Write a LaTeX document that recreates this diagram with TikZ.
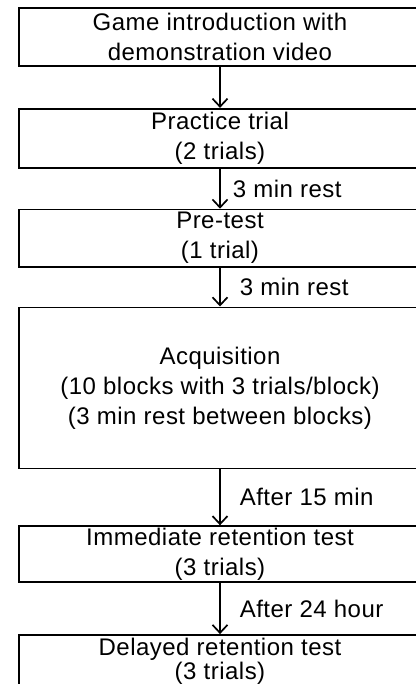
\documentclass[tikz,border=0pt]{standalone}
\usepackage{fontspec}
\setmainfont[LetterSpace=2]{Liberation Sans}
\usetikzlibrary{positioning,arrows.meta}

\begin{document}
\begin{tikzpicture}[x=1pt, y=1pt,
    box/.style={rectangle, draw=black, line width=1.8pt,
                minimum width=402pt, inner sep=0pt, align=center,
                font=\fontsize{24}{30}\selectfont},
    arrow/.style={-{Straight Barb[length=8pt,width=15pt]}, line width=1.7pt},
    lbl/.style={font=\fontsize{24}{30}\selectfont, inner sep=0pt}
]
    \useasboundingbox (0,0) rectangle (415,-684);
    \node[box, minimum height=58pt] (intro) at (220,-37)
        {Game introduction with\\demonstration video};
    \node[box, minimum height=59pt, below=41pt of intro] (practice)
        {Practice trial\\(2 trials)};
    \node[box, minimum height=57pt, below=40pt of practice] (pretest)
        {Pre-test\\(1 trial)};
    \node[box, minimum height=161pt, below=39pt of pretest] (acq)
        {Acquisition\\(10 blocks with 3 trials/block)\\(3 min rest between blocks)};
    \node[box, minimum height=56pt, below=56pt of acq] (immediate)
        {Immediate retention test\\(3 trials)};
    \node[box, minimum height=60pt, below=51pt of immediate,
          font=\fontsize{24}{24}\selectfont, text depth=12pt] (delayed)
        {Delayed retention test\\(3 trials)};

    \draw[arrow] (intro) -- (practice);
    \draw[arrow] (practice) -- node[lbl, right=12pt] {3 min rest} (pretest);
    \draw[arrow] (pretest) -- node[lbl, right=19pt] {3 min rest} (acq);
    \draw[arrow] (acq) -- node[lbl, right=19pt] {After 15 min} (immediate);
    \draw[arrow] (immediate) -- node[lbl, right=19pt] {After 24 hour} (delayed);
\end{tikzpicture}
\end{document}
